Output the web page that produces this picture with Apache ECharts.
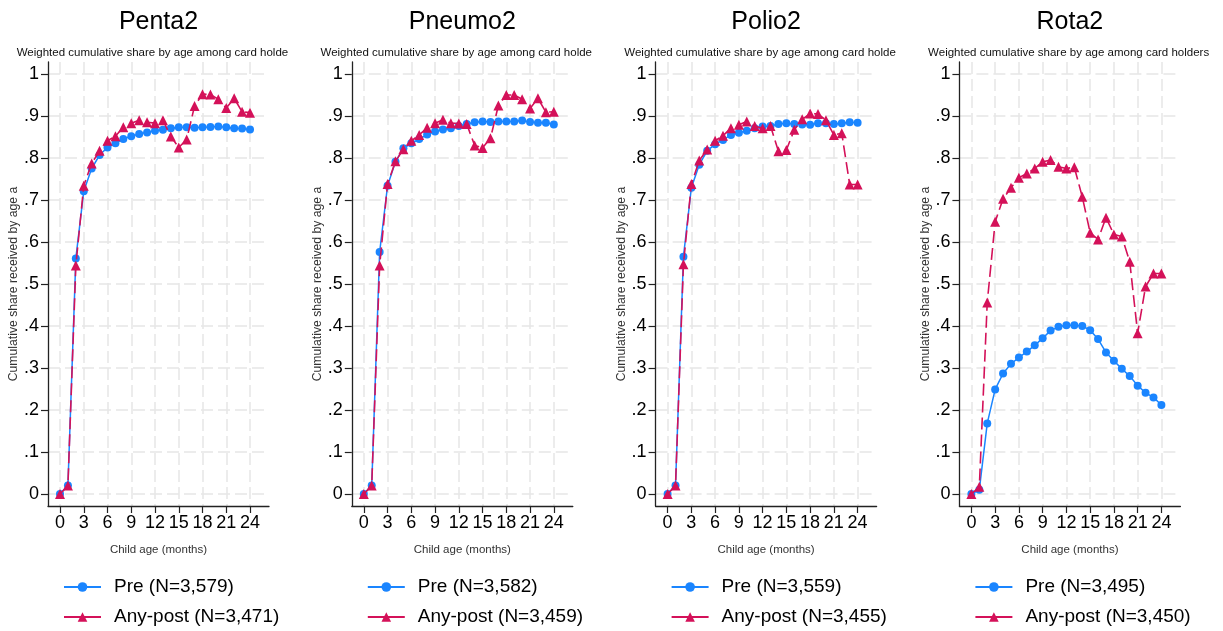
<!DOCTYPE html>
<html><head><meta charset="utf-8">
<script src="https://cdn.jsdelivr.net/npm/echarts@6/dist/echarts.min.js"></script>
<style>html,body{margin:0;padding:0;background:#fff}#c{width:1223px;height:631px}</style>
</head><body><div id="c"></div>
<script>
const months = [0,1,2,3,4,5,6,7,8,9,10,11,12,13,14,15,16,17,18,19,20,21,22,23,24];
const xTicks = [0,3,6,9,12,15,18,21,24];
const yTicks = [0,0.1,0.2,0.3,0.4,0.5,0.6,0.7,0.8,0.9,1];
const panelTitles = ['Penta2','Pneumo2','Polio2','Rota2'];
const subtitle = 'Weighted cumulative share by age among card holders';
const yName = 'Cumulative share received by age a';
const xName = 'Child age (months)';
const preNames = ['Pre (N=3,579)','Pre (N=3,582)','Pre (N=3,559)','Pre (N=3,495)'];
const postNames = ['Any-post (N=3,471)','Any-post (N=3,459)','Any-post (N=3,455)','Any-post (N=3,450)'];

const pentaPre  = [0,0.02,0.561,0.721,0.775,0.807,0.825,0.835,0.845,0.852,0.857,0.861,0.865,0.867,0.871,0.873,0.873,0.872,0.873,0.874,0.875,0.873,0.871,0.870,0.868];
const pentaPost = [0,0.02,0.544,0.734,0.787,0.817,0.841,0.852,0.873,0.883,0.890,0.885,0.883,0.890,0.851,0.825,0.844,0.924,0.952,0.951,0.940,0.919,0.942,0.910,0.908];
const pneumoPre  = [0,0.02,0.576,0.734,0.791,0.823,0.835,0.845,0.856,0.863,0.868,0.871,0.876,0.881,0.885,0.887,0.886,0.887,0.887,0.887,0.889,0.886,0.884,0.884,0.880];
const pneumoPost = [0,0.02,0.544,0.738,0.792,0.821,0.841,0.855,0.872,0.883,0.891,0.883,0.882,0.881,0.830,0.824,0.847,0.925,0.950,0.950,0.940,0.918,0.942,0.909,0.910];
const polioPre  = [0,0.02,0.565,0.729,0.784,0.817,0.833,0.843,0.855,0.860,0.865,0.871,0.875,0.876,0.881,0.883,0.881,0.880,0.879,0.883,0.883,0.881,0.883,0.885,0.884];
const polioPost = [0,0.02,0.547,0.738,0.794,0.820,0.841,0.853,0.871,0.879,0.887,0.876,0.871,0.876,0.816,0.819,0.867,0.892,0.906,0.905,0.890,0.855,0.859,0.737,0.737];
const rotaPre  = [0,0.01,0.168,0.249,0.287,0.310,0.325,0.339,0.354,0.371,0.389,0.398,0.402,0.402,0.400,0.390,0.369,0.337,0.317,0.298,0.281,0.258,0.241,0.230,0.212];
const rotaPost = [0,0.017,0.456,0.648,0.703,0.729,0.753,0.763,0.775,0.791,0.795,0.779,0.775,0.778,0.708,0.622,0.606,0.658,0.618,0.613,0.553,0.383,0.494,0.525,0.525];

const preValues = [pentaPre, pneumoPre, polioPre, rotaPre];
const postValues = [pentaPost, pneumoPost, polioPost, rotaPost];

const FONT = '"Liberation Sans", Arial, Helvetica, sans-serif';
const BLUE = '#1a85ff', RED = '#d41159';
const GRIDC = '#e6e6e6';
const step = 303.8;
const grids = [], xAxes = [], yAxes = [], series = [], titles = [], legends = [];

function yFmt(v) {
  if (Math.abs(v) < 1e-9) return '0';
  if (Math.abs(v - 1) < 1e-9) return '1';
  return v.toFixed(1).replace(/^0/, '');
}

for (let i = 0; i < 4; i++) {
  const left = 48 + step * i;
  const cx = left + 110.5;
  grids.push({ left: left, top: 62, width: 221, height: 444 });
  xAxes.push({
    gridIndex: i, type: 'value', min: -1.516, max: 26.4,
    axisLine: { show: true, onZero: false, lineStyle: { color: '#222', width: 1.3 } },
    axisTick: { show: true, customValues: xTicks, length: 7, lineStyle: { color: '#222', width: 1.2 } },
    axisLabel: { show: true, customValues: xTicks, fontSize: 18, color: '#000', margin: 8, fontFamily: FONT },
    splitLine: { show: true, customValues: xTicks, lineStyle: { color: GRIDC, type: [12, 5], width: 1.5 } },
    name: xName, nameLocation: 'middle', nameGap: 38,
    nameTextStyle: { fontSize: 11.5, color: '#333', fontFamily: FONT }
  });
  yAxes.push({
    gridIndex: i, type: 'value', min: -0.02857, max: 1.02857,
    axisLine: { show: true, onZero: false, lineStyle: { color: '#222', width: 1.3 } },
    axisTick: { show: true, customValues: yTicks, length: 7, lineStyle: { color: '#222', width: 1.2 } },
    axisLabel: { show: true, customValues: yTicks, fontSize: 18, color: '#000', margin: 9, fontFamily: FONT, formatter: yFmt },
    splitLine: { show: true, customValues: yTicks, lineStyle: { color: GRIDC, type: [12, 5], width: 1.5 } },
    name: yName, nameLocation: 'middle', nameGap: 28, nameRotate: 90,
    nameTextStyle: { fontSize: 12.2, color: '#333', fontFamily: FONT }
  });
  series.push({
    type: 'line', name: preNames[i], xAxisIndex: i, yAxisIndex: i,
    data: months.map((m, j) => [m, preValues[i][j]]),
    symbol: 'circle', symbolSize: 8, showAllSymbol: true,
    itemStyle: { color: BLUE }, lineStyle: { color: BLUE, width: 1.5 }, z: 3
  });
  series.push({
    type: 'line', name: postNames[i], xAxisIndex: i, yAxisIndex: i,
    data: months.map((m, j) => [m, postValues[i][j]]),
    symbol: 'triangle', symbolSize: 10, showAllSymbol: true,
    itemStyle: { color: RED }, lineStyle: { color: RED, width: 1.6, type: [12, 5] }, z: 4
  });
  titles.push({
    text: panelTitles[i], left: cx, top: 10, textAlign: 'center', padding: 0,
    textStyle: { fontSize: 25, fontWeight: 'normal', color: '#000', fontFamily: FONT }
  });
  titles.push({
    text: subtitle, left: 16.7 + step * i, top: 46.5, padding: 0,
    textStyle: { fontSize: 11.5, fontWeight: 'normal', color: '#111', fontFamily: FONT,
      width: i < 3 ? 276 : 300, overflow: 'truncate', ellipsis: '' }
  });
  legends.push({
    orient: 'vertical', left: 63 + step * i, top: 576, padding: 0,
    itemWidth: 37, itemHeight: 12, itemGap: 8,
    data: [preNames[i], postNames[i]],
    lineStyle: { type: 'solid', width: 2 },
    textStyle: { fontSize: 19, color: '#000', fontFamily: FONT, lineHeight: 22, padding: [0, 0, 0, 8] }
  });
}

const chart = echarts.init(document.getElementById('c'), null, { renderer: 'canvas' });
chart.setOption({
  animation: false,
  backgroundColor: '#fff',
  title: titles, legend: legends, grid: grids, xAxis: xAxes, yAxis: yAxes, series: series
});
</script></body></html>
